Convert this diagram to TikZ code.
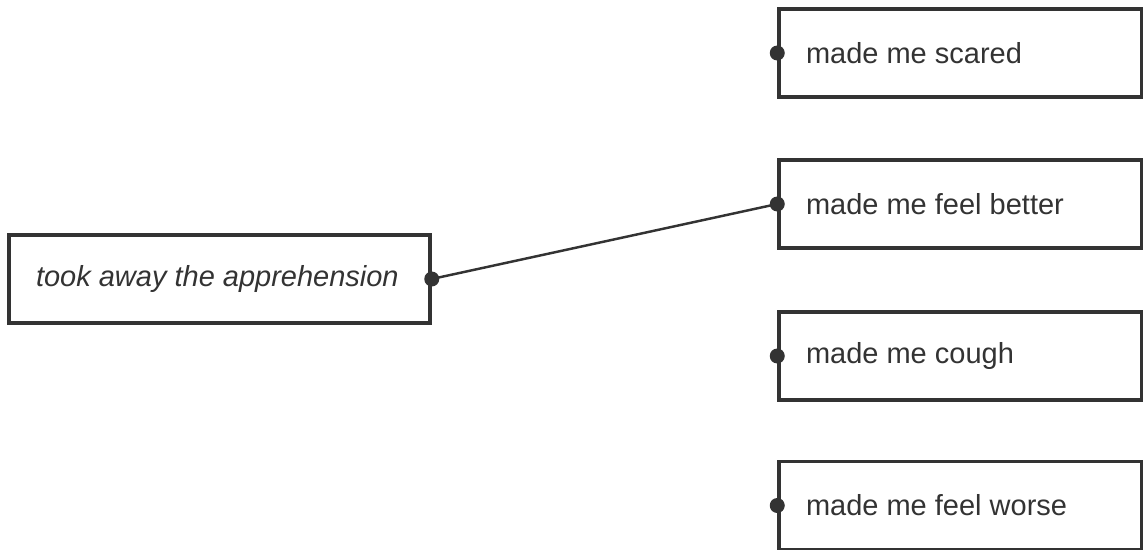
\documentclass[tikz,border=0pt]{standalone}
\usepackage{fontspec}
\setmainfont{Liberation Sans}
\usetikzlibrary{positioning}
\hyphenpenalty=10000
\definecolor{ink}{HTML}{333333}
\tikzset
{
    cuebox/.style   = {rectangle, draw=ink, line width=2pt, fill=white, text=ink, align=flush left, inner xsep=0.54cm, minimum height=1.76cm, font=\fontsize{16.5}{20}\selectfont\itshape, text width=7.34cm},
    answerbox/.style = {rectangle, draw=ink, line width=2pt, fill=white, text=ink, align=flush left, inner xsep=0.54cm, minimum height=1.76cm, font=\fontsize{16.5}{20}\selectfont, text width=6.18cm},
    pin/.style      = {circle, fill=ink, inner sep=0pt, minimum size=0.3cm}
}

\begin{document}
\begin{tikzpicture}
\useasboundingbox (0,0) rectangle (22.86,-11);
\node [cuebox] at (4.39,-5.58) (cue) {took away the apprehension};
\node [answerbox] at (19.21,-1.06) (a1) {made me scared};
\node [answerbox] at (19.21,-4.08) (a2) {made me feel better};
\node [answerbox] at (19.21,-7.12) (a3) {made me cough};
\node [answerbox] at (19.21,-10.11) (a4) {made me feel worse};
\draw [ink, line width=1.4pt] (cue.east) -- (a2.west);
\node [pin] at (cue.east) (p0) {};
\node [pin] at (a1.west) (p1) {};
\node [pin] at (a2.west) (p2) {};
\node [pin] at (a3.west) (p3) {};
\node [pin] at (a4.west) (p4) {};
\end{tikzpicture}
\end{document}
